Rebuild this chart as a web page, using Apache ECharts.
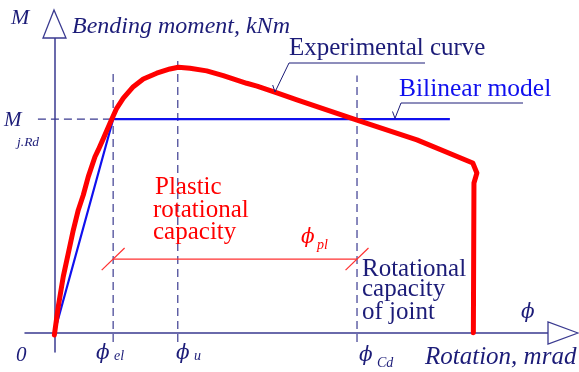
<!DOCTYPE html>
<html><head><meta charset="utf-8">
<script src="https://cdn.jsdelivr.net/npm/echarts@6/dist/echarts.min.js"></script>
<style>html,body{margin:0;padding:0;background:#fff}#c{width:579px;height:372px}</style>
</head><body><div id="c"></div>
<script>
// Moment–rotation characteristic of a joint (schematic units: rotation in mrad, moment in kNm)
const expRotation = [0, 0.66, 1.51, 2.37, 3.22, 4.07, 4.92, 5.77, 6.91, 7.47, 8.44, 9.46, 10.6, 11.73, 13.43, 15.13, 17.41, 19.67, 21.09, 23.08, 25.92, 28.74, 32.73, 34.48, 37.88, 41.28, 51.5, 61.7, 71.2, 71.9, 71.4, 71.3];
const expMoment   = [-1, 12.2, 26.3, 37.2, 48.1, 57.5, 64.5, 73.1, 82.4, 85.6, 91.6, 98.1, 105.1, 109.8, 115.2, 118.8, 121.5, 123.5, 124.3, 123.8, 122.6, 120.4, 116.8, 115.5, 112.3, 109, 99.6, 90.3, 79.5, 74.8, 70.1, 0];

// Bilinear idealisation
const bilRotation = [0, 10, 67.3];
const bilMoment   = [0, 100, 100];

// Characteristic rotations and design moment resistance
const phiEl = 10, phiU = 21, phiCd = 51.5, MjRd = 100;
const guideTop = { el: 122.5, u: 127.7, cd: 120.5 };
const guideBottom = -4.3;
const guideLeft = -2.8;
const plasticLevel = 34.5;
const tickDx = 1.95, tickDy = 5.2;

const NAVY = '#1c1c78', AXIS = '#3a3a90', BLUE = '#1010ee', RED = '#ff0000';
const SERIF = '"Liberation Serif", "DejaVu Serif", serif';
const PHI_FONT = '"DejaVu Serif", serif';

const pairs = (xs, ys) => xs.map((x, i) => [x, ys[i]]);
const seg = (a, b, style) => ({
  type: 'line', data: [a, b], symbol: 'none', silent: true, z: 1,
  lineStyle: style
});
const dashed = { color: AXIS, width: 1.2, type: [8, 5] };
const dim = { color: '#ff3030', width: 1.2 };

const chart = echarts.init(document.getElementById('c'), null, { renderer: 'canvas' });

function txt(x, y, text, size, opts) {
  opts = opts || {};
  return {
    type: 'text', x: x, y: y, z: 10, silent: true,
    style: {
      text: text, fill: opts.fill || NAVY,
      font: (opts.italic ? 'italic ' : '') + size + 'px ' + (opts.family || SERIF),
      verticalAlign: 'middle', align: opts.align || 'left'
    }
  };
}
function phi(x, y, size, fill) {
  return txt(x, y, 'ϕ', size, { italic: true, family: PHI_FONT, fill: fill });
}
function poly(points, color, width) {
  return { type: 'polyline', z: 10, silent: true, shape: { points: points },
           style: { stroke: color, lineWidth: width || 1, fill: null } };
}

chart.setOption({
  animation: false,
  backgroundColor: '#fff',
  grid: { left: 25, right: 31, top: 38, bottom: 20 },
  xAxis: {
    type: 'value', min: -5, max: 84,
    axisLine: { onZero: true, lineStyle: { color: AXIS, width: 1.5 } },
    axisTick: { show: false }, axisLabel: { show: false }, splitLine: { show: false }
  },
  yAxis: {
    type: 'value', min: -9, max: 138,
    axisLine: { onZero: true, lineStyle: { color: AXIS, width: 1.5 } },
    axisTick: { show: false }, axisLabel: { show: false }, splitLine: { show: false }
  },
  series: [
    seg([phiEl, guideBottom], [phiEl, guideTop.el], dashed),
    seg([phiU, guideBottom], [phiU, guideTop.u], dashed),
    seg([phiCd, guideBottom], [phiCd, guideTop.cd], dashed),
    seg([guideLeft, MjRd], [phiEl, MjRd], dashed),
    // plastic rotational capacity dimension line with end ticks
    seg([phiEl, plasticLevel], [phiCd, plasticLevel], dim),
    seg([phiEl - tickDx, plasticLevel - tickDy], [phiEl + tickDx, plasticLevel + tickDy], dim),
    seg([phiCd - tickDx, plasticLevel - tickDy], [phiCd + tickDx, plasticLevel + tickDy], dim),
    {
      type: 'line', name: 'Bilinear model', data: pairs(bilRotation, bilMoment),
      symbol: 'none', silent: true, z: 3,
      lineStyle: { color: BLUE, width: 2.2 }
    },
    {
      type: 'line', name: 'Experimental curve', data: pairs(expRotation, expMoment),
      symbol: 'none', silent: true, z: 4,
      lineStyle: { color: RED, width: 5, cap: 'round', join: 'round' }
    }
  ],
  graphic: [
    // axis arrow heads
    { type: 'polygon', z: 10, silent: true, shape: { points: [[54, 10], [43, 38], [66, 38]] },
      style: { fill: '#fff', stroke: AXIS, lineWidth: 1.3 } },
    { type: 'polygon', z: 10, silent: true, shape: { points: [[578, 333], [548, 322], [548, 344]] },
      style: { fill: '#fff', stroke: AXIS, lineWidth: 1.3 } },
    // axis titles
    txt(11, 18, 'M', 22, { italic: true }),
    txt(72, 27, 'Bending moment, kNm', 24, { italic: true }),
    txt(4, 120, 'M', 21, { italic: true }),
    txt(17, 142, 'j.Rd', 13.5, { italic: true }),
    txt(16, 355, '0', 21, { italic: true }),
    phi(521, 313, 20),
    txt(425, 357, 'Rotation, mrad', 25, { italic: true }),
    // rotation markers
    phi(96, 354, 20),
    txt(114, 356, 'el', 14, { italic: true }),
    phi(176, 354, 20),
    txt(194, 356, 'u', 14, { italic: true }),
    phi(359, 356, 20),
    txt(377, 363, 'Cd', 14, { italic: true }),
    // curve labels and leaders
    txt(289, 48, 'Experimental curve', 25),
    poly([[272.7, 85], [275, 92], [289, 63], [425, 63]], NAVY, 1),
    txt(399, 89, 'Bilinear model', 25.5, { fill: BLUE }),
    poly([[392.5, 111.5], [395, 118.3], [401, 103], [523, 103]], NAVY, 1),
    // plastic rotational capacity
    txt(155, 187, 'Plastic', 25, { fill: RED }),
    txt(153, 210, 'rotational', 25, { fill: RED }),
    txt(153, 232, 'capacity', 25, { fill: RED }),
    phi(301, 238, 20, RED),
    txt(317, 245, 'pl', 14, { italic: true, fill: RED }),
    // rotational capacity of the joint
    txt(362, 269, 'Rotational', 25),
    txt(362, 289, 'capacity', 25),
    txt(362, 312, 'of joint', 25)
  ]
});
</script>
</body></html>
